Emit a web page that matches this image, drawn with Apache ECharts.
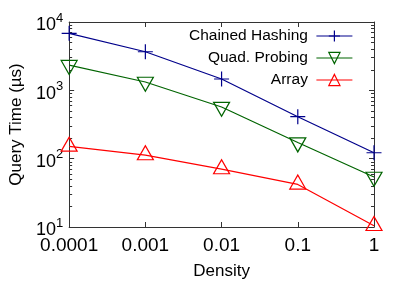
<!DOCTYPE html>
<html><head><meta charset="utf-8">
<script src="https://cdn.jsdelivr.net/npm/echarts@6/dist/echarts.min.js"></script>
<style>html,body{margin:0;padding:0;background:#fff}#c{width:407px;height:285px}</style>
</head><body><div id="c"></div>
<script>
var densities = [0.0001, 0.001, 0.01, 0.1, 1];
var chainedHashing = [6820, 3670, 1466, 411, 122];
var quadProbing = [2340, 1324, 570, 172, 54];
var arrayVals = [151, 113, 70.5, 42, 10.4];
var xTickLabels = ['0.0001', '0.001', '0.01', '0.1', '1'];
var yTickExps = ['1', '2', '3', '4'];
var yMinorTicks = [20,30,40,50,60,70,80,90,200,300,400,500,600,700,800,900,2000,3000,4000,5000,6000,7000,8000,9000];

var FONT = 'Liberation Sans, Arial, Helvetica, sans-serif';
function pairs(v){ return densities.map(function(d,i){ return [d, v[i]]; }); }
var plus = 'path://M0,-1 L0,1 M-1,0 L1,0';
var triDown = 'path://M-1,-0.667 L1,-0.667 L0,1.333 Z';
var triUp = 'path://M-1,0.667 L1,0.667 L0,-1.333 Z';

function xAx(pos, show){
  return {type:'log', logBase:10, min:0.0001, max:1, position:pos,
    axisLine:{show:true, onZero:false, lineStyle:{color:'#333', width:1}},
    axisTick:{show:true, inside:true, length:5, lineStyle:{color:'#333'}},
    minorTick:{show:false},
    splitLine:{show:false},
    axisLabel:{show:show, margin:9, fontFamily:FONT, fontSize:19, color:'#000',
      formatter:function(v){ var i = Math.round(Math.log10(v))+4; return xTickLabels[i]; }},
    name: show ? 'Density' : '', nameLocation:'middle', nameGap:36,
    nameTextStyle:{fontFamily:FONT, fontSize:17, color:'#000'}};
}
function yAx(pos, show){
  return {type:'log', logBase:10, min:10, max:10000, position:pos,
    axisLine:{show:true, onZero:false, lineStyle:{color:'#333', width:1}},
    axisTick:{show:true, inside:true, length:5, lineStyle:{color:'#333'}},
    minorTick:{show:false},
    splitLine:{show:false},
    axisLabel:{show:show, margin:6, fontFamily:FONT, color:'#000',
      formatter:function(v){ var e = Math.round(Math.log10(v)); return '{b|10}{s|' + yTickExps[e-1] + '}'; },
      rich:{b:{fontFamily:FONT, fontSize:18, color:'#000', padding:[7,0,0,0]}, s:{fontFamily:FONT, fontSize:13, color:'#000', padding:[0,0,8,0]}}},
    name: show ? 'Query Time (µs)' : '', nameLocation:'middle', nameGap:43,
    nameTextStyle:{fontFamily:FONT, fontSize:17, color:'#000'}};
}
function yMinor(pos){
  return {type:'log', logBase:10, min:10, max:10000, position:pos,
    axisLine:{show:false}, splitLine:{show:false}, axisLabel:{show:false},
    axisTick:{show:true, inside:true, length:3, customValues:yMinorTicks, lineStyle:{color:'#333'}}};
}
function ser(name, data, color, sym, size, off){
  return {name:name, type:'line', data:pairs(data), xAxisIndex:0, yAxisIndex:0,
    symbol:sym, symbolSize:size, symbolOffset:off, showAllSymbol:true,
    lineStyle:{color:color, width:1.2},
    itemStyle:{color:'rgba(0,0,0,0)', borderColor:color, borderWidth:1.2},
    emphasis:{disabled:true}, animation:false};
}
var chart = echarts.init(document.getElementById('c'), null, {renderer:'canvas'});
chart.setOption({
  animation:false,
  grid:{left:66, right:33, top:22, bottom:58, containLabel:false},
  xAxis:[xAx('bottom', true), xAx('top', false)],
  yAxis:[yAx('left', true), yAx('right', false), yMinor('left'), yMinor('right')],
  legend:{right:54, top:28, padding:0, orient:'vertical', align:'right', itemWidth:36, itemHeight:14, itemGap:6,
    lineStyle:{width:1.2}, itemStyle:{borderWidth:1.2},
    textStyle:{fontFamily:FONT, fontSize:15.5, color:'#000', padding:[0,3.5,0,0]},
    data:['Chained Hashing','Quad. Probing','Array']},
  series:[
    ser('Chained Hashing', chainedHashing, '#00008b', plus, [15,15], [0,0]),
    ser('Quad. Probing', quadProbing, '#006400', triDown, [16,14], [0,2.3]),
    ser('Array', arrayVals, '#ff0000', triUp, [16,14], [0,-2.3])
  ]
});
</script></body></html>
